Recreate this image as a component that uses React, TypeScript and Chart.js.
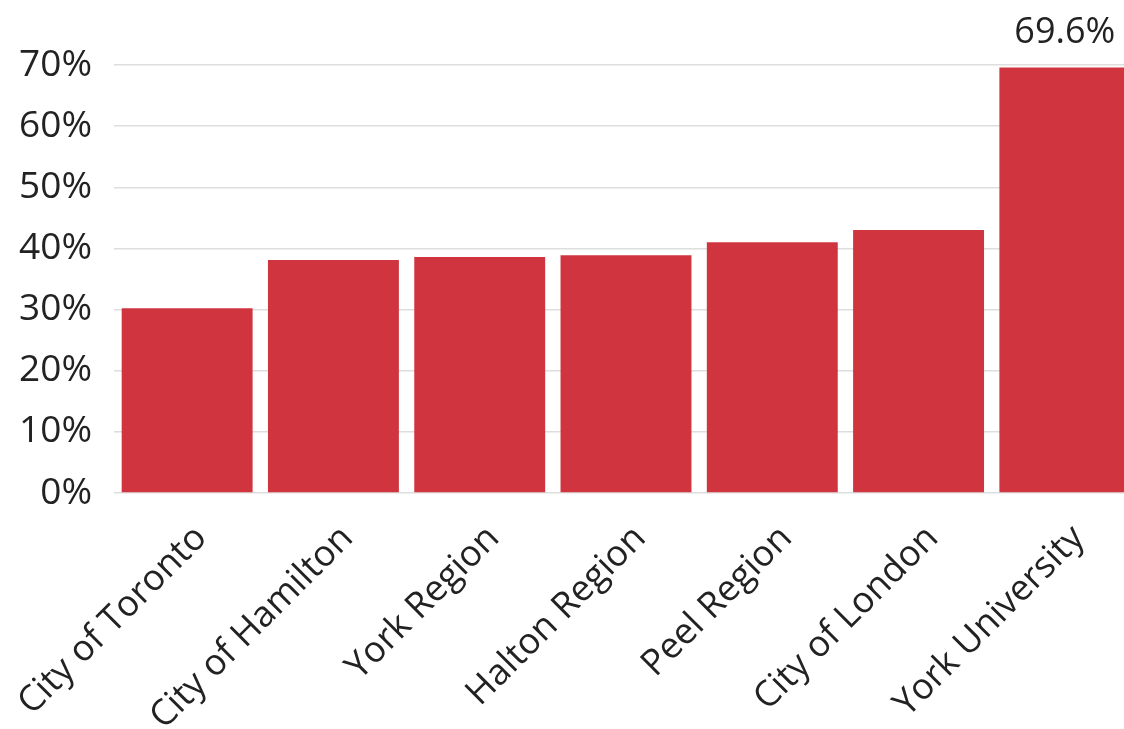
import React, { useEffect, useRef } from "react";
import { Chart, registerables } from "chart.js";

Chart.register(...registerables);

const categories = [
  "City of Toronto",
  "City of Hamilton",
  "York Region",
  "Halton Region",
  "Peel Region",
  "City of London",
  "York University",
];
const values = [30.2, 38.1, 38.6, 38.9, 41.0, 43.0, 69.6];
const yMin = 0;
const yMax = 70;
const yStep = 10;
const labelledIndices = [6];

const FONT = "'Open Sans', 'Noto Sans', sans-serif";
const BAR_COLOR = "#D0343F";
const TEXT_COLOR = "#222222";

const dataLabelPlugin = {
  id: "dataLabelPlugin",
  afterDatasetsDraw(chart: any) {
    const meta = chart.getDatasetMeta(0);
    const ctx = chart.ctx;
    ctx.save();
    ctx.fillStyle = TEXT_COLOR;
    ctx.font = `36px ${FONT}`;
    ctx.textAlign = "center";
    ctx.textBaseline = "alphabetic";
    labelledIndices.forEach((i) => {
      const el = meta.data[i];
      if (!el) return;
      ctx.fillText(`${values[i].toFixed(1)}%`, el.x, el.y - 24);
    });
    ctx.restore();
  },
};

export default function App() {
  const canvasRef = useRef<HTMLCanvasElement | null>(null);

  useEffect(() => {
    if (!canvasRef.current) return;
    const chart = new Chart(canvasRef.current, {
      type: "bar",
      data: {
        labels: categories,
        datasets: [
          {
            data: values,
            backgroundColor: BAR_COLOR,
            borderWidth: 0,
            barPercentage: 0.895,
            categoryPercentage: 1,
          },
        ],
      },
      plugins: [dataLabelPlugin],
      options: {
        responsive: false,
        animation: false,
        devicePixelRatio: 1,
        layout: { padding: { top: 65, left: 0, right: 0, bottom: 0 } },
        plugins: {
          legend: { display: false },
          tooltip: { enabled: false },
        },
        scales: {
          x: {
            grid: { display: false },
            border: { display: false },
            ticks: {
              color: TEXT_COLOR,
              font: { family: FONT, size: 36 },
              minRotation: 45,
              maxRotation: 45,
              autoSkip: false,
              padding: 16,
              labelOffset: 14,
            },
            afterFit(scale: any) {
              scale.height = 236;
              scale.paddingLeft = 0;
              scale.paddingRight = 0;
            },
          },
          y: {
            min: yMin,
            max: yMax,
            grid: { color: "#dedede", lineWidth: 1.5, drawTicks: false },
            border: { display: false },
            ticks: {
              stepSize: yStep,
              color: TEXT_COLOR,
              font: { family: FONT, size: 37 },
              padding: 22,
              callback: (v: any) => `${v}%`,
            },
            afterFit(scale: any) {
              scale.width = 114;
              scale.paddingTop = 0;
              scale.paddingBottom = 0;
            },
          },
        },
      },
    } as any);
    return () => chart.destroy();
  }, []);

  return (
    <div
      style={{
        position: "fixed",
        left: 0,
        top: 0,
        width: 1124,
        height: 729,
        overflow: "hidden",
        background: "#ffffff",
      }}
    >
      <canvas ref={canvasRef} width={1138} height={729} style={{ display: "block" }} />
    </div>
  );
}
